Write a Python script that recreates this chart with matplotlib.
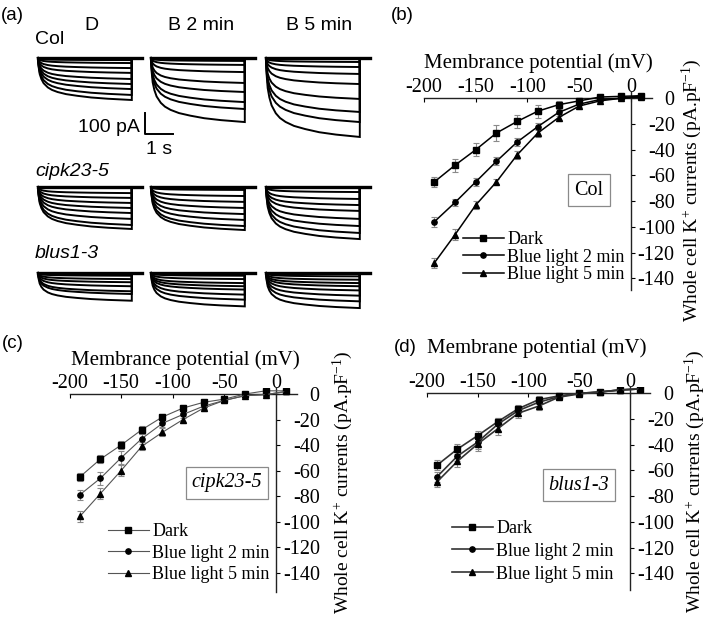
import matplotlib
matplotlib.use("Agg")
import matplotlib.pyplot as plt

plt.rcParams['mathtext.fontset'] = 'custom'
plt.rcParams['mathtext.rm'] = 'Liberation Serif'
plt.rcParams['mathtext.it'] = 'Liberation Serif:italic'

W, H = 709, 622
SERIF = 'Liberation Serif'
SANS = 'Liberation Sans'

# ---- dados (a): amplitudes finais das correntes (pA) por genotipo / condicao
amp_col_d = [10, 24, 48, 71, 100, 124, 148, 176, 200]
amp_col_b2 = [5, 14, 33, 67, 119, 162, 210, 243, 305]
amp_col_b5 = [5, 19, 43, 76, 124, 195, 257, 305, 376]
amp_cipk_d = [2, 29, 52, 76, 100, 124, 152, 181, 200]
amp_cipk_b2 = [2, 14, 43, 71, 100, 129, 157, 186, 205]
amp_cipk_b5 = [2, 24, 57, 86, 114, 152, 186, 219, 248]
amp_blus_d = [2, 13, 29, 44, 63, 87, 100, 132]
amp_blus_b2 = [2, 13, 29, 48, 63, 79, 103, 127, 159]
amp_blus_b5 = [2, 16, 32, 48, 63, 83, 108, 135, 167]

shape_t = [0, 0.02, 0.06, 0.12, 0.2, 0.35, 0.5, 0.7, 1.0, 1.4, 1.9, 2.5, 3.35]
shape_f = [0, 0.2, 0.38, 0.5, 0.6, 0.7, 0.76, 0.81, 0.86, 0.9, 0.94, 0.97, 1.0]

# ---- dados (b)-(d): curvas I-V
voltage = [-190, -170, -150, -130, -110, -90, -70, -50, -30, -10, 10]
labels = ['Dark', 'Blue light 2 min', 'Blue light 5 min']

col_dark = [-65, -52, -40, -27, -18, -10, -5, -2, 1, 1.5, 2]
col_b2 = [-96, -81, -65, -49, -34, -22, -11, -4.5, -1, 0, 2]
col_b5 = [-128, -106, -83, -65, -44, -27, -15, -6, -2, 0, 1]
col_dark_err = [4, 5, 5, 6, 5, 5, 3, 2, 2, 1, 1]
col_b2_err = [4, 3, 3, 3, 3, 3, 3, 2, 1, 1, 1]
col_b5_err = [4, 4, 3, 2, 3, 3, 3, 2, 1, 1, 1]

cipk_dark = [-65, -51, -40, -28, -18, -11, -6.5, -4, 0, 2.5, 2.5]
cipk_b2 = [-79, -66, -50, -35, -23, -16, -9.5, -5, -1.3, -0.5, 2]
cipk_b5 = [-96, -78, -60, -41, -30, -20, -11, -5, -1.3, -0.5, 2]
cipk_dark_err = [3, 3, 3, 3, 2, 2, 2, 2, 1, 1, 1]
cipk_b2_err = [4, 5, 5, 4, 3, 3, 2, 2, 1, 1, 1]
cipk_b5_err = [4, 4, 4, 3, 3, 3, 2, 2, 1, 1, 1]

blus_dark = [-56, -43.5, -33, -22, -12, -5, -2, 0, 1, 2.6, 3.4]
blus_b2 = [-65, -49, -38, -24, -13.5, -7, -2.6, 0, 1, 2.6, 3.4]
blus_b5 = [-69, -53, -39.5, -27.5, -15.5, -10, -3, -0.5, 1, 2.6, 3.4]
blus_dark_err = [4, 4, 4, 3, 3, 3, 2, 1, 1, 1, 1]
blus_b2_err = [4, 4, 5, 5, 4, 3, 2, 1, 1, 1, 1]
blus_b5_err = [4, 4, 5, 5, 4, 3, 2, 1, 1, 1, 1]


def fx(px):
    return px / W


def fy(py):
    return 1 - py / H


fig = plt.figure(figsize=(W / 100, H / 100), dpi=100)

# ================= (a) tracos de corrente =================
# eixo em s / pA, posicionado para que 1 s = 28 px e 100 pA = 21 px
ax_a = fig.add_axes([0, fy(320), 380 / W, 280 / H])
ax_a.set_xlim(-38 / 28, 342 / 28)
ax_a.set_ylim(-(320 - 58) * 100 / 21, (58 - 40) * 100 / 21)
ax_a.axis('off')

col_start = [0, (151 - 38) / 28, (266 - 38) / 28]   # inicio de cada coluna (s)
row_base = [0, -(187 - 58) * 100 / 21, -(273 - 58) * 100 / 21]   # linha de base (pA)
dur = shape_t[-1]

grupos = [[amp_col_d, amp_col_b2, amp_col_b5],
          [amp_cipk_d, amp_cipk_b2, amp_cipk_b5],
          [amp_blus_d, amp_blus_b2, amp_blus_b5]]

for r, linha in enumerate(grupos):
    for c, amps in enumerate(linha):
        t0, base = col_start[c], row_base[r]
        for a in amps:
            xs = [t0 + t for t in shape_t] + [t0 + dur]
            ys = [base - a * f for f in shape_f] + [base]
            ax_a.plot(xs, ys, color='black', lw=1.4, solid_joinstyle='miter')
        ax_a.plot([t0, t0 + dur + 0.35], [base, base], color='black', lw=2.4)

# barra de escala: 100 pA / 1 s
sb_x, sb_y = (145 - 38) / 28, -(134 - 58) * 100 / 21
ax_a.plot([sb_x, sb_x, sb_x + 1], [sb_y + 100, sb_y, sb_y], color='black', lw=1.4)

fig.text(fx(12), fy(16), '(a)', fontsize=13.5, family=SANS, ha='center', va='center')
fig.text(fx(91), fy(25), 'D', fontsize=14, family=SANS, ha='center', va='center')
fig.text(fx(201), fy(25), 'B 2 min', fontsize=14, family=SANS, ha='center', va='center')
fig.text(fx(319), fy(25), 'B 5 min', fontsize=14, family=SANS, ha='center', va='center')
fig.text(fx(50), fy(40), 'Col', fontsize=14, family=SANS, ha='center', va='center')
fig.text(fx(109), fy(127), '100 pA', fontsize=14, family=SANS, ha='center', va='center')
fig.text(fx(159), fy(150), '1 s', fontsize=14, family=SANS, ha='center', va='center')
fig.text(fx(35), fy(172), 'cipk23-5', fontsize=14, family=SANS, style='italic', ha='left', va='center')
fig.text(fx(35), fy(254), 'blus1-3', fontsize=14, family=SANS, style='italic', ha='left', va='center')


# ================= (b)-(d) curvas I-V =================
def painel_iv(px_m200, px_0, py_0, px_unit, ylo, series, erros, cor, lw,
              caixa, italico, titulo, tit_xy, ylab_x, leg_xy, leg_sp):
    px_mv = (px_0 - px_m200) / 200
    xlim, ylim = (-200, 20), (ylo, 5)
    left = px_0 + xlim[0] * px_mv
    right = px_0 + xlim[1] * px_mv
    top = py_0 - ylim[1] * px_unit
    bottom = py_0 - ylim[0] * px_unit
    ax = fig.add_axes([fx(left), fy(bottom), (right - left) / W, (bottom - top) / H])
    ax.set_xlim(xlim)
    ax.set_ylim(ylim)
    ax.patch.set_alpha(0)
    for s in ['left', 'bottom']:
        ax.spines[s].set_visible(False)
    ax.spines['top'].set_position(('data', 0))
    ax.spines['right'].set_position(('data', 0))
    for s in ['top', 'right']:
        ax.spines[s].set_linewidth(1.0)
        ax.spines[s].set_color('#222222')
    ax.xaxis.tick_top()
    ax.yaxis.tick_right()
    ax.set_xticks([-200, -150, -100, -50, 0])
    ax.set_yticks(range(0, -141, -20))
    ax.tick_params(axis='x', direction='in', length=3, pad=1, labelsize=14.5)
    # rotulos do eixo y alinhados a direita, ~44 px a direita do eixo
    ax.tick_params(axis='y', direction='out', length=3, pad=28.5, labelsize=14.5)
    ax.xaxis.set_major_formatter(plt.FuncFormatter(lambda v, p: '%d' % v))
    ax.yaxis.set_major_formatter(plt.FuncFormatter(lambda v, p: '%d' % v))
    for lab in ax.get_xticklabels() + ax.get_yticklabels():
        lab.set_family(SERIF)
    for lab in ax.get_yticklabels():
        lab.set_horizontalalignment('right')

    marcadores = ['s', 'o', '^']
    handles = []
    for ys, es, m in zip(series, erros, marcadores):
        ax.errorbar(voltage, ys, yerr=es, fmt='none', ecolor='#8a8a8a',
                    elinewidth=0.8, capsize=2.2, capthick=0.8, zorder=2)
        h, = ax.plot(voltage, ys, color=cor, lw=lw, marker=m, markersize=3.8,
                     markerfacecolor='black', markeredgecolor='black', zorder=3)
        handles.append(h)

    ax.legend(handles, labels, loc='upper left', bbox_to_anchor=(fx(leg_xy[0]), fy(leg_xy[1])),
              bbox_transform=fig.transFigure, frameon=False, borderpad=0, borderaxespad=0,
              handlelength=2.25, handletextpad=0.2, labelspacing=leg_sp,
              prop={'family': SERIF, 'size': 13})

    fig.text(fx(caixa[0]), fy(caixa[1]), caixa[2], fontsize=14.5, family=SERIF,
             style='italic' if italico else 'normal', ha='center', va='center',
             bbox=dict(boxstyle='square,pad=0.3', fc='white', ec='#8a8a8a', lw=0.9))
    fig.text(fx(tit_xy[0]), fy(tit_xy[1]), titulo, fontsize=15, family=SERIF,
             ha='center', va='center')
    fig.text(fx(ylab_x[0]), fy(ylab_x[1]), r'Whole cell K$^{+}$ currents (pA.pF$^{-1}$)',
             fontsize=14, family=SERIF, rotation=90, ha='center', va='center')
    return ax


painel_iv(424, 631, 98.3, 1.286, -149, [col_dark, col_b2, col_b5],
          [col_dark_err, col_b2_err, col_b5_err], 'black', 1.1,
          (589, 190, 'Col'), False, 'Membrance potential (mV)', (538, 63),
          (692, 190), (463, 231), 0.03)

painel_iv(69.5, 276, 394, 1.276, -155, [cipk_dark, cipk_b2, cipk_b5],
          [cipk_dark_err, cipk_b2_err, cipk_b5_err], '#555555', 0.8,
          (227, 483, 'cipk23-5'), True, 'Membrance potential (mV)', (185, 360),
          (343, 482), (108, 523), 0.25)

painel_iv(426.7, 630, 393.3, 1.286, -153, [blus_dark, blus_b2, blus_b5],
          [blus_dark_err, blus_b2_err, blus_b5_err], '#333333', 1.2,
          (579, 485, 'blus1-3'), True, 'Membrane potential (mV)', (537, 348),
          (695, 481), (452, 520), 0.32)

fig.text(fx(402), fy(15), '(b)', fontsize=13.5, family=SANS, ha='center', va='center')
fig.text(fx(13), fy(343), '(c)', fontsize=13.5, family=SANS, ha='center', va='center')
fig.text(fx(405), fy(348), '(d)', fontsize=13.5, family=SANS, ha='center', va='center')

fig.savefig('out.png', dpi=100)
